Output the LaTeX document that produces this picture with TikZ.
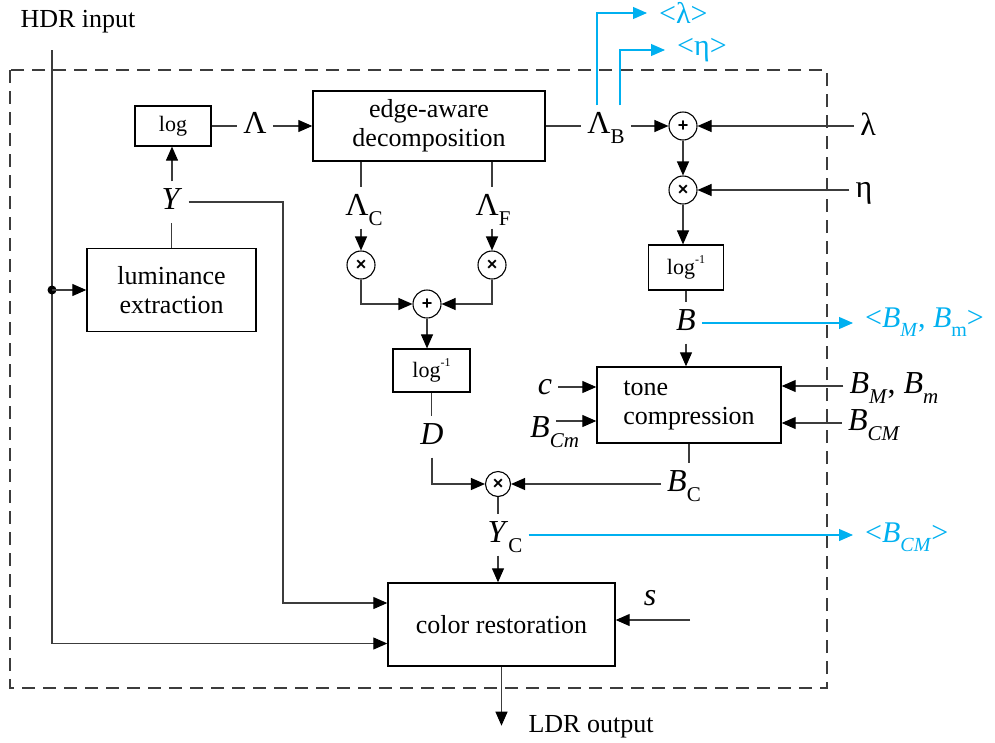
\documentclass[tikz,border=0pt]{standalone}
\usepackage{fontspec}
\setmainfont{Liberation Serif}
\newfontfamily\opfont{Liberation Sans}
\usetikzlibrary{arrows.meta,calc}
\definecolor{outblue}{RGB}{0,176,240}
\definecolor{linegray}{RGB}{60,60,60}
\newcommand\mysub[1]{\raisebox{-0.3em}{\fontsize{21}{21}\selectfont #1}}
\newcommand\mysubb[1]{\raisebox{-0.3em}{\fontsize{20}{20}\selectfont #1}}
\newcommand\loginv{log\raisebox{0.5em}{\fontsize{12}{12}\selectfont -1}}
\begin{document}
\begin{tikzpicture}[x=1pt,y=-1pt,
 conn/.style={draw=linegray, line width=1.1pt},
 arr/.style={conn, -{Triangle[length=14pt,width=12pt,color=black]}},
 bluearr/.style={draw=outblue, line width=1.1pt, -{Triangle[length=14pt,width=12pt]}},
 boxs/.style={draw=black, line width=1.4pt, inner sep=0pt, align=center, font=\fontsize{26}{29}\selectfont},
 smallbox/.style={draw=black, line width=1.2pt, inner sep=0pt, font=\fontsize{22}{22}\selectfont},
 circ/.style={circle, draw=black, line width=1.1pt, minimum size=28pt, inner sep=0pt, font=\opfont\bfseries\fontsize{18}{18}\selectfont},
 lbl/.style={inner xsep=6pt, inner ysep=6pt, text height=22pt, text depth=7pt, font=\fontsize{32}{32}\selectfont},
 bout/.style={anchor=west, inner xsep=12pt, inner ysep=0pt, text=outblue, font=\fontsize{30}{30}\selectfont},
 txt/.style={inner sep=0pt, font=\fontsize{26}{26}\selectfont}
]
\useasboundingbox (0,0) rectangle (995,742);
\draw[draw=linegray, line width=1.3pt, dash pattern=on 13pt off 8pt] (10,70) rectangle (827,688);

% boxes
\node[boxs, minimum width=169pt, minimum height=83pt] (lum) at (171.5,290) {luminance\\extraction};
\node[smallbox, minimum width=76pt, minimum height=40pt] (logb) at (173,126) {log};
\node[boxs, minimum width=232pt, minimum height=70pt] (dec) at (429,126) {edge-aware\\decomposition};
\node[smallbox, minimum width=77pt, minimum height=43pt] (linvL) at (431.5,370.5) {\loginv};
\node[smallbox, minimum width=75pt, minimum height=45pt] (linvR) at (686,267.5) {\loginv};
\node[boxs, minimum width=184pt, minimum height=76pt, align=left] (tone) at (689,405) {tone\\compression};
\node[boxs, minimum width=227pt, minimum height=83pt] (col) at (501.5,624.5) {color restoration};

% operators
\node[circ] (addB) at (683,126) {+};
\node[circ] (mulB) at (683,190) {×};
\node[circ] (mulC) at (361,265) {×};
\node[circ] (mulF) at (492,265) {×};
\node[circ] (addD) at (427,304) {+};
\node[circ, minimum size=25pt] (mulY) at (498,484) {×};

% labels
\node[txt] (hdr) at (78,22) {HDR input};
\node[txt] (ldr) at (591,727) {LDR output};
\node[lbl] (Y) at (172,202) {\textit{Y}};
\node[lbl] (Lam) at (255,126) {Λ};
\node[lbl] (LB) at (606,126) {Λ\mysub{B}};
\node[lbl] (LC) at (364,208) {Λ\mysub{C}};
\node[lbl] (LF) at (493,208) {Λ\mysub{F}};
\node[lbl] (lamin) at (868,128) {λ};
\node[lbl] (etain) at (864,190) {η};
\node[lbl] (Bn) at (686,323) {\textit{B}};
\node[lbl] (cin) at (545,387) {\textit{c}};
\node[lbl] (bcmin) at (540,430) {\textit{B}\rlap{\mysub{\textit{Cm}}}};
\node[lbl] (bmmin) at (894,386) {\textit{B}\mysub{\textit{M}}, \textit{B}\mysub{\textit{m}}};
\node[lbl] (bCMin) at (874,423) {\textit{B}\mysub{\textit{CM}}};
\node[lbl] (BC) at (684,484) {\textit{B}\mysub{C}};
\node[lbl] (D) at (432,437) {\textit{D}};
\node[lbl] (YC) at (505,535) {\textit{Y}\mysub{C}};
\node[lbl] (s) at (650,598) {\textit{s}};

\node[bout] (olam) at (647,13) {<λ>};
\node[bout] (oeta) at (665,50) {<η>};
\node[bout] (obmm) at (853,322) {<\textit{B}\mysubb{\textit{M}}, \textit{B}\mysubb{m}>};
\node[bout] (obcm) at (853,537) {<\textit{B}\mysubb{\textit{CM}}>};

% connectors
\coordinate (hdrtop) at (52,50);
\draw[arr] (hdrtop) |- ($(col.west)+(0,19)$);
\fill[black] (hdrtop |- lum.west) circle (4.5);
\draw[arr] (hdrtop |- lum.west) -- (lum.west);
\draw[conn] (lum.north) -- (lum.north |- Y.south);
\draw[arr] (Y.north) -- (Y.north |- logb.south);
\coordinate (yturn) at (283,603);
\draw[arr] (Y.east) -| (yturn) -- (yturn -| col.west);
\draw[conn] (logb.east) -- (Lam.west);
\draw[arr] (Lam.east) -- (Lam.east -| dec.west);
\draw[conn] (dec.east) -- (LB.west);
\draw[arr] (LB.east) -- (addB.west);
\draw[bluearr] ([xshift=-9pt]LB.north) |- (olam.west);
\draw[bluearr] ([xshift=14pt]LB.north) |- (oeta.west);
\draw[arr] (addB -| lamin.west) -- (addB.east);
\draw[arr] (mulB -| etain.west) -- (mulB.east);
\draw[arr] (addB.south) -- (mulB.north);
\draw[arr] (mulB.south) -- (mulB.south |- linvR.north);
\draw[conn] (linvR.south) -- (linvR.south |- Bn.north);
\draw[arr] (Bn.south) -- (Bn.south |- tone.north);
\draw[bluearr] (Bn.east) -- (Bn.east -| obmm.west);
\draw[arr] (cin.east) -- (cin.east -| tone.west);
\draw[arr] ([yshift=9pt]bcmin.east) -- ([yshift=9pt]bcmin.east -| tone.west);
\draw[arr] (bmmin.west) -- (bmmin.west -| tone.east);
\draw[arr] (bCMin.west) -- (bCMin.west -| tone.east);
\draw[conn] (tone.south) -- (tone.south |- BC.north);
\draw[arr] (BC.west) -- (mulY.east);
\draw[conn] (linvL.south) -- (linvL.south |- D.north);
\draw[arr] (D.south) |- (mulY.west);
\draw[conn] (mulC |- dec.south) -- (mulC |- LC.north);
\draw[arr] (mulC |- LC.south) -- (mulC.north);
\draw[conn] (mulF |- dec.south) -- (mulF |- LF.north);
\draw[arr] (mulF |- LF.south) -- (mulF.north);
\draw[arr] (mulC.south) |- (addD.west);
\draw[arr] (mulF.south) |- (addD.east);
\draw[arr] (addD.south) -- (addD.south |- linvL.north);
\draw[conn] (mulY.south) -- (mulY |- YC.north);
\draw[arr] (mulY |- YC.south) -- (mulY |- col.north);
\draw[bluearr] (YC.east) -- (YC.east -| obcm.west);
\coordinate (sin) at (690,620);
\draw[arr] (sin) -- (sin -| col.east);
\coordinate (ldrend) at ($(col.south)+(0,59)$);
\draw[arr] (col.south) -- (ldrend);
\end{tikzpicture}
\end{document}
